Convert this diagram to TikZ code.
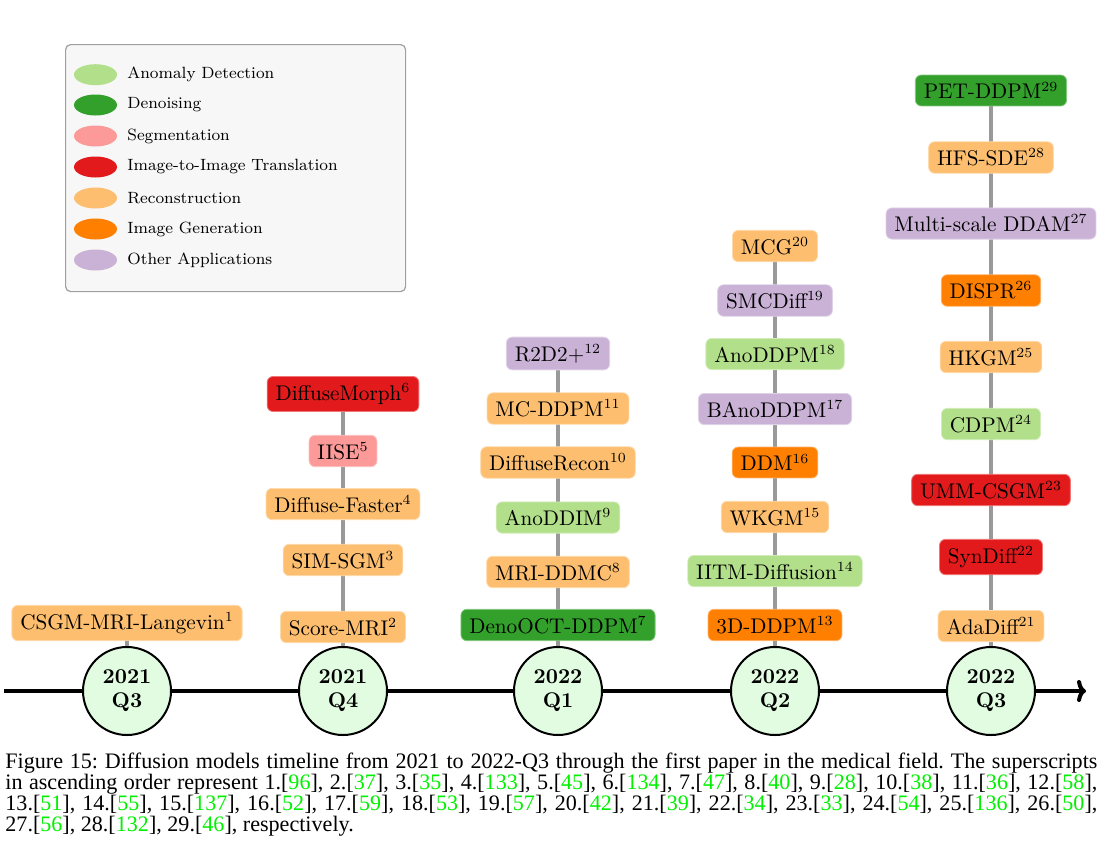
\documentclass[tikz,border=0pt]{standalone}
\usepackage{fontspec}
\newfontfamily\capfont{Liberation Serif}
\usetikzlibrary{shapes.geometric,arrows.meta,backgrounds}
\definecolor{cAD}{HTML}{B2DF8A}
\definecolor{cDN}{HTML}{33A02C}
\definecolor{cSG}{HTML}{FB9A99}
\definecolor{cIT}{HTML}{E31A1C}
\definecolor{cRC}{HTML}{FDBF6F}
\definecolor{cIG}{HTML}{FF7F00}
\definecolor{cOA}{HTML}{CAB2D6}
\definecolor{circfill}{HTML}{E2FCE2}
\definecolor{legfill}{HTML}{F7F7F7}
\definecolor{citegreen}{HTML}{00F000}
\newcommand{\citeg}[1]{[\textcolor{citegreen}{#1}]}
\tikzset{
  paper/.style={fill=#1, draw=#1!60!white, line width=0.4pt, rounded corners=3pt,
    inner xsep=4.2pt, inner ysep=3.5pt, font=\fontsize{10.6}{12.7}\selectfont},
  qcirc/.style={circle, draw=black, line width=1pt, fill=circfill, minimum size=44pt,
    inner sep=0pt, align=center, font=\fontsize{10.6}{12}\selectfont\bfseries},
  link/.style={draw=gray!80, line width=2pt},
  legdot/.style={ellipse, fill=#1, minimum width=21.5pt, minimum height=10.5pt, inner sep=0pt},
  legtext/.style={anchor=west, inner sep=0pt, font=\fontsize{8.15}{9.8}\selectfont},
}
\begin{document}
\begin{tikzpicture}[x=0.5pt,y=-0.5pt]
\useasboundingbox (0,0) rectangle (1102,862);

% legend
\node[draw=gray!75, fill=legfill, rounded corners=2.5pt, line width=0.6pt,
  minimum width=170pt, minimum height=123.5pt, anchor=north west, inner sep=0pt] (legend) at (65,44) {};
\node[legdot=cAD] (l1) at (95.5,74.7) {};
\node[legtext] (t1) at (127,74.7) {Anomaly Detection};
\node[legdot=cDN] (l2) at (95.5,105) {};
\node[legtext] (t2) at (127,105) {Denoising};
\node[legdot=cSG] (l3) at (95.5,136) {};
\node[legtext] (t3) at (127,136) {Segmentation};
\node[legdot=cIT] (l4) at (95.5,167) {};
\node[legtext] (t4) at (127,167) {Image-to-Image Translation};
\node[legdot=cRC] (l5) at (95.5,198) {};
\node[legtext] (t5) at (127,198) {Reconstruction};
\node[legdot=cIG] (l6) at (95.5,229) {};
\node[legtext] (t6) at (127,229) {Image Generation};
\node[legdot=cOA] (l7) at (95.5,260) {};
\node[legtext] (t7) at (127,260) {Other Applications};

% quarter circles
\node[qcirc] (q1) at (127,691) {2021\\Q3};
\node[qcirc] (q2) at (343,691) {2021\\Q4};
\node[qcirc] (q3) at (558,691) {2022\\Q1};
\node[qcirc] (q4) at (775,691) {2022\\Q2};
\node[qcirc] (q5) at (991,691) {2022\\Q3};

% column 1
\node[paper=cRC] (p1) at (127,623) {CSGM-MRI-Langevin$^{1}$};
% column 2
\node[paper=cRC] (p2) at (343,627) {Score-MRI$^{2}$};
\node[paper=cRC] (p3) at (343,560) {SIM-SGM$^{3}$};
\node[paper=cRC] (p4) at (343,504) {Diffuse-Faster$^{4}$};
\node[paper=cSG] (p5) at (343,451) {IISE$^{5}$};
\node[paper=cIT] (p6) at (343,394) {DiffuseMorph$^{6}$};
% column 3
\node[paper=cDN] (p7) at (558,625) {DenoOCT-DDPM$^{7}$};
\node[paper=cRC] (p8) at (558,572) {MRI-DDMC$^{8}$};
\node[paper=cAD] (p9) at (558,517.5) {AnoDDIM$^{9}$};
\node[paper=cRC] (p10) at (558,462.5) {DiffuseRecon$^{10}$};
\node[paper=cRC] (p11) at (558,408.5) {MC-DDPM$^{11}$};
\node[paper=cOA] (p12) at (558,353.5) {R2D2+$^{12}$};
% column 4
\node[paper=cIG] (p13) at (775,625) {3D-DDPM$^{13}$};
\node[paper=cAD] (p14) at (775,571) {IITM-Diffusion$^{14}$};
\node[paper=cRC] (p15) at (775,517) {WKGM$^{15}$};
\node[paper=cIG] (p16) at (775,462.5) {DDM$^{16}$};
\node[paper=cOA] (p17) at (775,409) {BAnoDDPM$^{17}$};
\node[paper=cAD] (p18) at (775,354) {AnoDDPM$^{18}$};
\node[paper=cOA] (p19) at (775,300.5) {SMCDiff$^{19}$};
\node[paper=cRC] (p20) at (775,246) {MCG$^{20}$};
% column 5
\node[paper=cRC] (p21) at (991,626) {AdaDiff$^{21}$};
\node[paper=cIT] (p22) at (991,557) {SynDiff$^{22}$};
\node[paper=cIT] (p23) at (991,490) {UMM-CSGM$^{23}$};
\node[paper=cAD] (p24) at (991,424) {CDPM$^{24}$};
\node[paper=cRC] (p25) at (991,357) {HKGM$^{25}$};
\node[paper=cIG] (p26) at (991,290.5) {DISPR$^{26}$};
\node[paper=cOA] (p27) at (991,223.5) {Multi-scale DDAM$^{27}$};
\node[paper=cRC] (p28) at (991,157.5) {HFS-SDE$^{28}$};
\node[paper=cDN] (p29) at (991,90.5) {PET-DDPM$^{29}$};

\coordinate (tl0) at (4,691);
\coordinate (tl1) at (1086,691);

\begin{scope}[on background layer]
  \draw[line width=2pt, -{To[length=4.5pt,width=11pt]}] (tl0) -- (tl1);
  \draw[link] (q1.center) -- (p1.center);
  \draw[link] (q2.center) -- (p2.center) -- (p3.center) -- (p4.center) -- (p5.center) -- (p6.center);
  \draw[link] (q3.center) -- (p7.center) -- (p8.center) -- (p9.center) -- (p10.center) -- (p11.center) -- (p12.center);
  \draw[link] (q4.center) -- (p13.center) -- (p14.center) -- (p15.center) -- (p16.center) -- (p17.center) -- (p18.center) -- (p19.center) -- (p20.center);
  \draw[link] (q5.center) -- (p21.center) -- (p22.center) -- (p23.center) -- (p24.center) -- (p25.center) -- (p26.center) -- (p27.center) -- (p28.center) -- (p29.center);
\end{scope}

% caption
\node[anchor=base west, inner sep=0pt] (caption) at (5,768) {\parbox[t]{546pt}{\capfont\fontsize{11.05}{10.6}\selectfont
\frenchspacing\hyphenpenalty=10000 \exhyphenpenalty=10000
Figure 15: Diffusion models timeline from 2021 to 2022-Q3 through the first paper in the medical field. The superscripts\linebreak
in ascending order represent 1.\citeg{96}, 2.\citeg{37}, 3.\citeg{35}, 4.\citeg{133}, 5.\citeg{45}, 6.\citeg{134}, 7.\citeg{47}, 8.\citeg{40}, 9.\citeg{28}, 10.\citeg{38}, 11.\citeg{36}, 12.\citeg{58},\linebreak
13.\citeg{51}, 14.\citeg{55}, 15.\citeg{137}, 16.\citeg{52}, 17.\citeg{59}, 18.\citeg{53}, 19.\citeg{57}, 20.\citeg{42}, 21.\citeg{39}, 22.\citeg{34}, 23.\citeg{33}, 24.\citeg{54}, 25.\citeg{136}, 26.\citeg{50},\linebreak
27.\citeg{56}, 28.\citeg{132}, 29.\citeg{46}, respectively.}};
\end{tikzpicture}
\end{document}
